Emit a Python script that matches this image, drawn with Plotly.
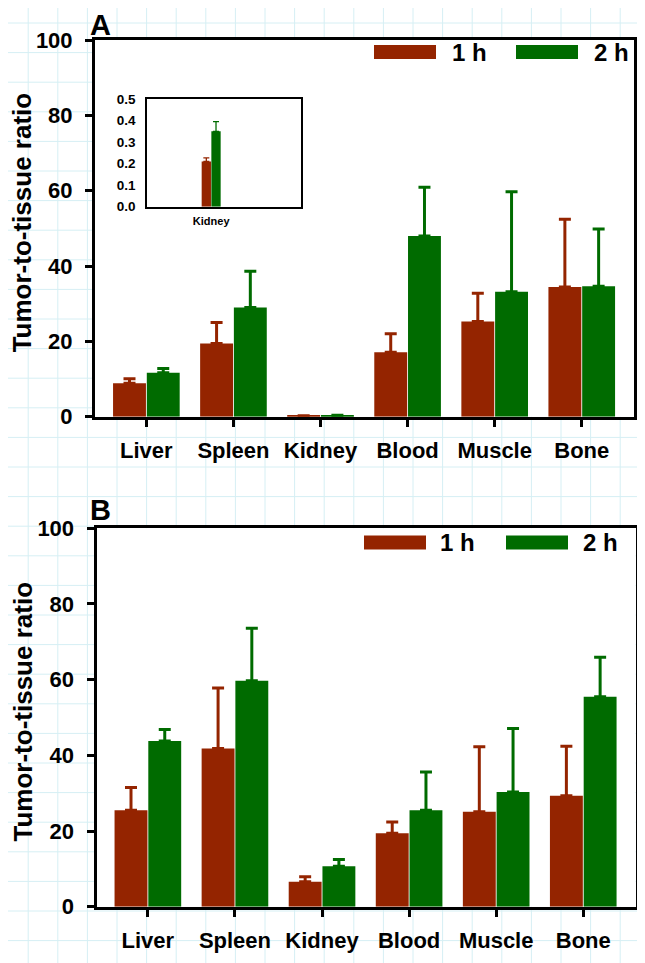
import plotly.graph_objects as go

# ---------------- data ----------------
organs = ["Liver", "Spleen", "Kidney", "Blood", "Muscle", "Bone"]
series_names = ["1 h", "2 h"]

a_1h = [8.9, 19.4, 0.21, 17.1, 25.3, 34.4]
a_1h_err = [1.2, 5.6, 0.017, 4.9, 7.5, 18.0]
a_2h = [11.7, 29.0, 0.35, 48.0, 33.2, 34.6]
a_2h_err = [1.1, 9.6, 0.045, 12.9, 26.5, 15.2]

b_1h = [25.5, 41.8, 6.6, 19.4, 25.1, 29.3]
b_1h_err = [6.0, 16.0, 1.3, 3.0, 17.2, 13.1]
b_2h = [43.8, 59.7, 10.7, 25.5, 30.3, 55.5]
b_2h_err = [3.0, 13.9, 1.8, 10.1, 16.8, 10.4]

inset_cat = ["Kidney"]
y_ticks = [0, 20, 40, 60, 80, 100]
inset_ticks = [0.0, 0.1, 0.2, 0.3, 0.4, 0.5]
y_title = "Tumor-to-tissue ratio"
panel_labels = ["A", "B"]

# ---------------- style ----------------
W, H = 645, 963
OFF = 8  # page body margin offset
RED = "#942400"
GREEN = "#006B00"
COLORS = [RED, GREEN]
FONT = "Liberation Sans, Arial, sans-serif"


def px(x):
    return (x - OFF) / W


def py(y):
    return 1 - (y - OFF) / H


fig = go.Figure()


def add_bars(cats, vals, errs, xa, ya, thick=3, capw=6):
    for name, v, e, c in zip(series_names, vals, errs, COLORS):
        fig.add_trace(go.Bar(
            x=cats, y=v, name=name,
            marker=dict(color=c, line=dict(width=0)),
            error_y=dict(type="data", array=e, arrayminus=[0] * len(e), symmetric=False,
                         color=c, thickness=thick, width=capw),
            xaxis=xa, yaxis=ya, showlegend=False))


add_bars(organs, [a_1h, a_2h], [a_1h_err, a_2h_err], "x", "y")
add_bars(organs, [b_1h, b_2h], [b_1h_err, b_2h_err], "x2", "y2")
add_bars(inset_cat, [[a_1h[2]], [a_2h[2]]], [[a_1h_err[2]], [a_2h_err[2]]], "x3", "y3",
         thick=1.3, capw=3)

# panel geometry in pixels
pA = dict(l=95, r=634, t=40, b=416.7)
pB = dict(l=96.5, r=635.5, t=528.3, b=906.7)
pI = dict(l=147, r=301, t=99, b=206.7)

axis_common = dict(showline=True, linecolor="black", linewidth=3, mirror=True,
                   showgrid=False, zeroline=False, ticks="outside", ticklen=7,
                   tickwidth=2.5, tickcolor="black", automargin=False,
                   tickfont=dict(family=FONT, size=22, color="black"))

fig.update_layout(
    template="none",
    xaxis=dict(domain=[px(pA["l"]), px(pA["r"])], anchor="y", range=[-0.59, 5.6],
               tickvals=organs, ticktext=[f"<b>{o}</b>" for o in organs],
               ticklabelstandoff=5, **axis_common),
    yaxis=dict(domain=[py(pA["b"]), py(pA["t"])], anchor="x", range=[0, 100],
               tickvals=y_ticks, ticktext=[f"<b>{v}</b>" for v in y_ticks],
               ticklabelstandoff=8, **axis_common),
    xaxis2=dict(domain=[px(pB["l"]), px(pB["r"])], anchor="y2", range=[-0.59, 5.6],
                tickvals=organs, ticktext=[f"<b>{o}</b>" for o in organs],
                ticklabelstandoff=5, **axis_common),
    yaxis2=dict(domain=[py(pB["b"]), py(pB["t"])], anchor="x2", range=[0, 100],
                tickvals=y_ticks, ticktext=[f"<b>{v}</b>" for v in y_ticks],
                ticklabelstandoff=8, **axis_common),
    xaxis3=dict(domain=[px(pI["l"]), px(pI["r"])], anchor="y3", range=[-1.0, 1.4],
                tickvals=inset_cat, ticktext=[f"<b>{c}</b>" for c in inset_cat],
                showline=True, linecolor="black", linewidth=1.5, mirror=True,
                showgrid=False, zeroline=False, ticks="", automargin=False,
                ticklabelstandoff=3,
                tickfont=dict(family=FONT, size=11, color="black")),
    yaxis3=dict(domain=[py(pI["b"]), py(pI["t"])], anchor="x3", range=[0, 0.5],
                tickvals=inset_ticks, ticktext=[f"<b>{v:.1f}</b>" for v in inset_ticks],
                showline=True, linecolor="black", linewidth=1.5, mirror=True,
                showgrid=False, zeroline=False, ticks="", automargin=False,
                ticklabelstandoff=7,
                tickfont=dict(family=FONT, size=13.5, color="black")),
    barmode="group", bargap=0.225, bargroupgap=0.025,
    width=W, height=H, margin=dict(l=0, r=0, t=0, b=0, pad=0),
    paper_bgcolor="white", plot_bgcolor="rgba(0,0,0,0)",
    showlegend=False, font=dict(family=FONT, color="black"),
)
# inset bar geometry
fig.update_traces(selector=dict(xaxis="x3"), width=0.145)
fig.update_traces(selector=dict(xaxis="x3", name="1 h"), offset=-0.148)
fig.update_traces(selector=dict(xaxis="x3", name="2 h"), offset=0.003)

shapes = []
# background graph-paper grid
step = 29.6
x0, y0 = -1.4, 23.0
k = 0
while x0 + k * step < W + OFF:
    xx = x0 + k * step
    if xx > OFF:
        shapes.append(dict(type="line", xref="paper", yref="paper", x0=px(xx), x1=px(xx),
                           y0=0, y1=1, line=dict(color="#d6eff4", width=1), layer="below"))
    k += 1
k = 0
while y0 + k * step < H + OFF:
    yy = y0 + k * step
    if yy > OFF:
        shapes.append(dict(type="line", xref="paper", yref="paper", x0=0, x1=1,
                           y0=py(yy), y1=py(yy), line=dict(color="#d6eff4", width=1),
                           layer="below"))
    k += 1
# white panel backgrounds
for p in (pA, pB, pI):
    shapes.append(dict(type="rect", xref="paper", yref="paper", x0=px(p["l"]), x1=px(p["r"]),
                       y0=py(p["b"]), y1=py(p["t"]), fillcolor="white",
                       line=dict(width=0), layer="below"))

annotations = []
# manual legends
legend_specs = [
    (pA, [(374, 436, 450), (516, 578, 592)], 52),
    (pB, [(364, 426, 438), (506, 568, 581)], 542.5),
]
for p, items, yc in legend_specs:
    for (sx0, sx1, tx), name, c in zip(items, series_names, COLORS):
        shapes.append(dict(type="rect", xref="paper", yref="paper", x0=px(sx0), x1=px(sx1),
                           y0=py(yc + 7), y1=py(yc - 7), fillcolor=c,
                           line=dict(width=0), layer="above"))
        annotations.append(dict(text=f"<b>{name}</b>", xref="paper", yref="paper",
                                x=px(tx), y=py(yc), xanchor="left", yanchor="middle",
                                showarrow=False,
                                font=dict(family=FONT, size=24, color="black")))

# y titles & panel labels
for i, (p, lab) in enumerate(zip((pA, pB), panel_labels)):
    annotations.append(dict(text=f"<b>{y_title}</b>", xref="paper", yref="paper",
                            x=px(22), y=py((p["t"] + p["b"]) / 2 - 6), textangle=-90,
                            xanchor="center", yanchor="middle", showarrow=False,
                            font=dict(family=FONT, size=26, color="black")))
    if i == 0:
        annotations.append(dict(text=f"<b>{lab}</b>", xref="paper", yref="paper",
                                x=px(100), y=1, xanchor="center", yanchor="top",
                                showarrow=False, borderpad=0,
                                font=dict(family=FONT, size=29, color="black")))
    else:
        annotations.append(dict(text=f"<b>{lab}</b>", xref="paper", yref="paper",
                                x=px(100), y=py(p["t"] - 18), xanchor="center",
                                yanchor="middle", showarrow=False,
                                font=dict(family=FONT, size=29, color="black")))

fig.update_layout(shapes=shapes, annotations=annotations)

fig.write_html("out.html")
